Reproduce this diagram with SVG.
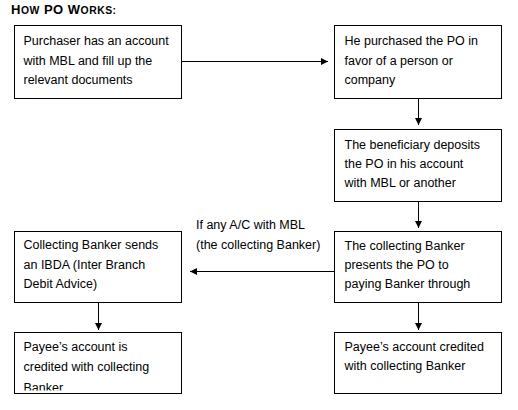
<svg xmlns="http://www.w3.org/2000/svg" width="518" height="410" viewBox="0 0 518 410">
<style>
.box{fill:#fff;stroke:#000;stroke-width:1}
.t{font-family:"Liberation Sans",Arial,sans-serif;font-size:12.5px;fill:#000}
.title{font-family:"Liberation Sans",Arial,sans-serif;font-weight:bold;fill:#000}
.c{stroke:#000;stroke-width:1;fill:none}
</style>
<defs>
<marker id="ah" markerWidth="8" markerHeight="7" refX="7" refY="3.5" orient="auto" markerUnits="userSpaceOnUse">
<path d="M0,0 L7,3.5 L0,7 Z" fill="#000"/>
</marker>
<clipPath id="clip6"><rect x="14" y="332" width="168" height="58.5"/></clipPath>
</defs>
<rect width="518" height="410" fill="#fff"/>
<text class="title" x="11" y="14" letter-spacing="0.5"><tspan font-size="13">H</tspan><tspan font-size="10.4">OW</tspan><tspan font-size="13"> PO W</tspan><tspan font-size="10.4">ORKS:</tspan></text>

<g id="connectors">
<line class="c" x1="182" y1="61.5" x2="328" y2="61.5" marker-end="url(#ah)"/>
<line class="c" x1="418.5" y1="98" x2="418.5" y2="125" marker-end="url(#ah)"/>
<line class="c" x1="418.5" y1="202" x2="418.5" y2="228" marker-end="url(#ah)"/>
<line class="c" x1="334" y1="271.5" x2="190" y2="271.5" marker-end="url(#ah)"/>
<line class="c" x1="98.5" y1="303" x2="98.5" y2="330" marker-end="url(#ah)"/>
<line class="c" x1="418.5" y1="303" x2="418.5" y2="330" marker-end="url(#ah)"/>
<text class="t" x="196" y="229">If any A/C with MBL</text>
<text class="t" x="196" y="249">(the collecting Banker)</text>
</g>

<g id="n1">
<rect class="box" x="14.5" y="25.5" width="167" height="73"/>
<text class="t" x="23.5" y="45">Purchaser has an account</text>
<text class="t" x="23.5" y="64.5">with MBL and fill up the</text>
<text class="t" x="23.5" y="83.5">relevant documents</text>
</g>

<g id="n2">
<rect class="box" x="334.5" y="25.5" width="167" height="73"/>
<text class="t" x="344.5" y="45">He purchased the PO in</text>
<text class="t" x="344.5" y="64.5">favor of a person or</text>
<text class="t" x="344.5" y="83.5">company</text>
</g>

<g id="n3">
<rect class="box" x="334.5" y="129.5" width="167" height="72"/>
<text class="t" x="344.5" y="148.5">The beneficiary deposits</text>
<text class="t" x="344.5" y="167.5">the PO in his account</text>
<text class="t" x="344.5" y="186.5">with MBL or another</text>
</g>

<g id="n4">
<rect class="box" x="334.5" y="231.5" width="167" height="71"/>
<text class="t" x="344.5" y="249.5">The collecting Banker</text>
<text class="t" x="344.5" y="268.5">presents the PO to</text>
<text class="t" x="344.5" y="288">paying Banker through</text>
</g>

<g id="n5">
<rect class="box" x="14.5" y="231.5" width="167" height="71"/>
<text class="t" x="23.5" y="248.5">Collecting Banker sends</text>
<text class="t" x="23.5" y="268.5">an IBDA (Inter Branch</text>
<text class="t" x="23.5" y="288">Debit Advice)</text>
</g>

<g id="n6">
<rect class="box" x="14.5" y="332.5" width="167" height="61"/>
<g clip-path="url(#clip6)">
<text class="t" x="23.5" y="351">Payee’s account is</text>
<text class="t" x="23.5" y="371">credited with collecting</text>
<text class="t" x="23.5" y="391.5">Banker</text>
</g>
</g>

<g id="n7">
<rect class="box" x="334.5" y="332.5" width="167" height="61"/>
<text class="t" x="344.5" y="351">Payee’s account credited</text>
<text class="t" x="344.5" y="370">with collecting Banker</text>
</g>
</svg>
